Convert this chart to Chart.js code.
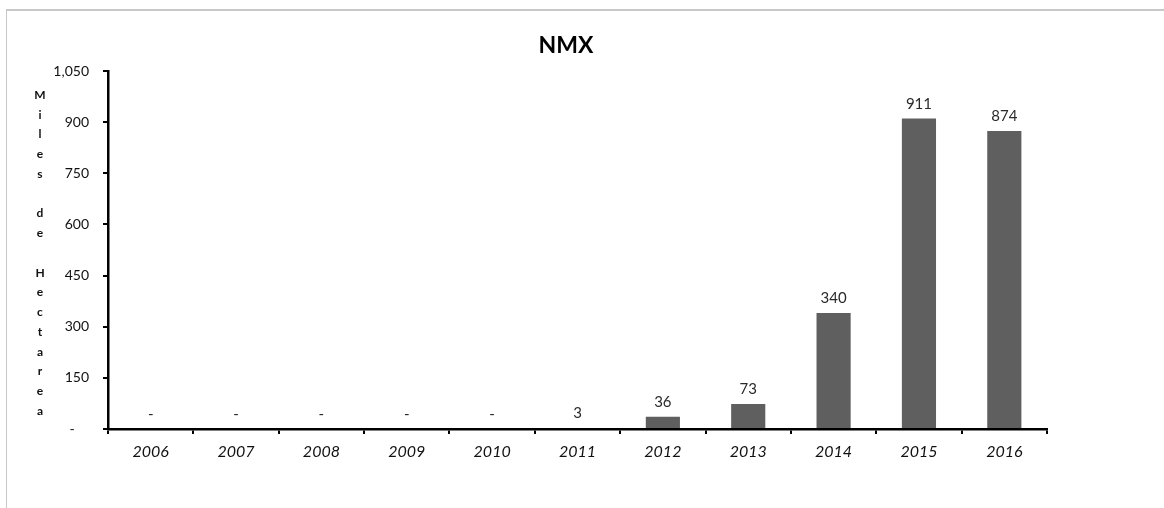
<!DOCTYPE html>
<html lang="es">
<head>
<meta charset="UTF-8" />
<title>NMX</title>
<style>
  html, body {
    margin: 0;
    padding: 0;
    background: #fff;
    overflow: hidden;
  }
  .wrap {
    position: relative;
    width: 1164px;
    height: 508px;
  }
  .frame {
    position: absolute;
    left: 6px;
    top: 9px;
    width: 1400px;
    height: 800px;
    border-top: 2px solid #c8c8c8;
    border-left: 1px solid #c8c8c8;
  }
  canvas {
    position: absolute;
    left: 0;
    top: 0;
  }
</style>
</head>
<body>
<div class="wrap">
  <div class="frame"></div>
  <canvas id="nmxChart" width="1164" height="508"></canvas>
</div>

<script src="https://cdn.jsdelivr.net/npm/chart.js@4.4.0/dist/chart.umd.min.js"></script>
<script>
  const years = ['2006', '2007', '2008', '2009', '2010', '2011', '2012', '2013', '2014', '2015', '2016'];
  const hectareas = [0, 0, 0, 0, 0, 3, 36, 73, 340, 911, 874];
  const yTicks = [0, 150, 300, 450, 600, 750, 900, 1050];
  const chartTitle = 'NMX';
  const axisTitle = 'Miles de Hectarea';

  const fmt = v => v === 0 ? '-' : Math.round(v).toLocaleString('en-US');

  // title, stacked y-axis title and value labels
  const extras = {
    id: 'extras',
    afterDatasetsDraw(chart) {
      const c = chart.ctx;
      c.save();
      c.fillStyle = '#000';
      c.font = 'bold 23px Lato, sans-serif';
      c.textAlign = 'center';
      c.textBaseline = 'middle';
      c.fillText(chartTitle, 566, 46);

      c.font = 'bold 12px Lato, sans-serif';
      c.fillStyle = '#111';
      axisTitle.split('').forEach((ch, i) => {
        if (ch !== ' ') c.fillText(ch, 40, 95 + i * 19.75);
      });

      const meta = chart.getDatasetMeta(0);
      c.font = '15px Lato, sans-serif';
      c.fillStyle = '#2a2a2a';
      c.textBaseline = 'bottom';
      meta.data.forEach((bar, i) => {
        c.fillText(fmt(hectareas[i]), bar.x, bar.y - 7);
      });
      c.restore();
    }
  };

  new Chart(document.getElementById('nmxChart'), {
    type: 'bar',
    data: {
      labels: years,
      datasets: [{
        data: hectareas,
        backgroundColor: '#5f5f5f',
        borderWidth: 0,
        categoryPercentage: 1,
        barPercentage: 0.4
      }]
    },
    options: {
      responsive: false,
      animation: false,
      devicePixelRatio: 1,
      layout: { padding: { top: 71, right: 117, bottom: 0, left: 0 } },
      plugins: {
        legend: { display: false },
        title: { display: false },
        tooltip: { enabled: false }
      },
      scales: {
        x: {
          afterFit: s => { s.height = 79; },
          grid: {
            drawOnChartArea: false,
            color: '#000',
            lineWidth: 2,
            tickLength: 5
          },
          border: { color: '#000', width: 2.5 },
          ticks: {
            color: '#111',
            padding: 8,
            font: { family: 'Lato, sans-serif', size: 16, style: 'italic' }
          }
        },
        y: {
          min: 0,
          max: 1050,
          afterFit: s => { s.width = 108; },
          afterBuildTicks: s => { s.ticks = yTicks.map(v => ({ value: v })); },
          grid: {
            drawOnChartArea: false,
            color: '#000',
            lineWidth: 2,
            tickLength: 5
          },
          border: { color: '#000', width: 2.5 },
          ticks: {
            color: '#111',
            padding: 14,
            font: { family: 'Lato, sans-serif', size: 14 },
            callback: v => v === 0 ? '-    ' : fmt(v)
          }
        }
      }
    },
    plugins: [extras]
  });
</script>
</body>
</html>
